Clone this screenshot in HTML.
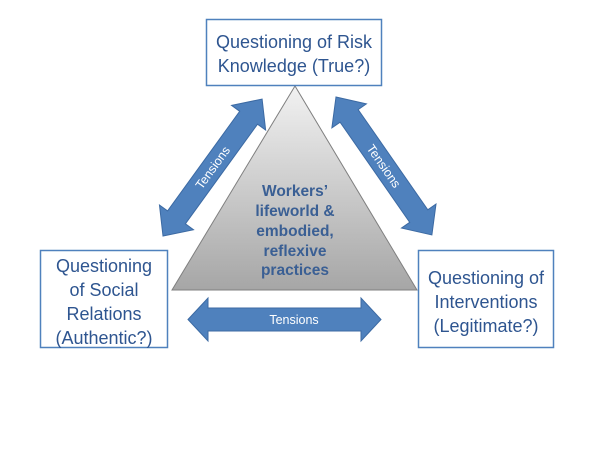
<!DOCTYPE html>
<html><head><meta charset="utf-8"><style>
body{margin:0;background:#fff;}
svg{display:block}
.bx{font-family:"Liberation Sans",sans-serif;font-size:18px;fill:#2e5590;text-anchor:middle}
.ct{font-family:"Liberation Sans",sans-serif;font-size:15.5px;font-weight:bold;fill:#3a5f94;text-anchor:middle}
.tn{font-family:"Liberation Sans",sans-serif;font-size:12.5px;fill:#fff;text-anchor:middle}
</style></head><body>
<svg width="600" height="450" viewBox="0 0 600 450">
<defs>
<linearGradient id="g" x1="0" y1="0" x2="0" y2="1">
<stop offset="0" stop-color="#f2f2f2"/><stop offset="1" stop-color="#a6a6a6"/>
</linearGradient>
</defs>
<polygon points="295,86 172,290 417,290" fill="url(#g)" stroke="#7f7f7f" stroke-width="1"/>
<text class="ct" x="295" y="196">Workers’</text>
<text class="ct" x="295" y="216">lifeworld &amp;</text>
<text class="ct" x="295" y="236">embodied,</text>
<text class="ct" x="295" y="256">reflexive</text>
<text class="ct" x="295" y="275">practices</text>

<rect x="206.5" y="19.5" width="175" height="66" fill="#fff" stroke="#4f81bd" stroke-width="1.5"/>
<text class="bx" x="294" y="48">Questioning of Risk</text>
<text class="bx" x="294" y="72">Knowledge (True?)</text>

<rect x="40.5" y="250.5" width="127" height="97" fill="#fff" stroke="#4f81bd" stroke-width="1.5"/>
<text class="bx" x="104" y="272">Questioning</text>
<text class="bx" x="104" y="296">of Social</text>
<text class="bx" x="104" y="320">Relations</text>
<text class="bx" x="104" y="344">(Authentic?)</text>

<rect x="418.5" y="250.5" width="135" height="97" fill="#fff" stroke="#4f81bd" stroke-width="1.5"/>
<text class="bx" x="486" y="284">Questioning of</text>
<text class="bx" x="486" y="308">Interventions</text>
<text class="bx" x="486" y="332">(Legitimate?)</text>

<!-- bottom arrow -->
<polygon points="188,319.5 208,298 208,308 361,308 361,298 381,319.5 361,341 361,331 208,331 208,341" fill="#4f81bd" stroke="#3c6aa3" stroke-width="1"/>
<text class="tn" x="294" y="324">Tensions</text>

<!-- left diagonal arrow -->
<g transform="translate(163,236) rotate(-54.1)">
<polygon points="0,0 23,-21 23,-11 146,-11 146,-21 169,0 146,21 146,11 23,11 23,21" fill="#4f81bd" stroke="#3c6aa3" stroke-width="1"/>
<text class="tn" x="84.5" y="4.5">Tensions</text>
</g>
<!-- right diagonal arrow -->
<g transform="translate(336,97) rotate(55.2)">
<polygon points="0,0 23,-21 23,-11 145,-11 145,-21 168,0 145,21 145,11 23,11 23,21" fill="#4f81bd" stroke="#3c6aa3" stroke-width="1"/>
<text class="tn" x="84" y="4.5">Tensions</text>
</g>
</svg>
</body></html>
